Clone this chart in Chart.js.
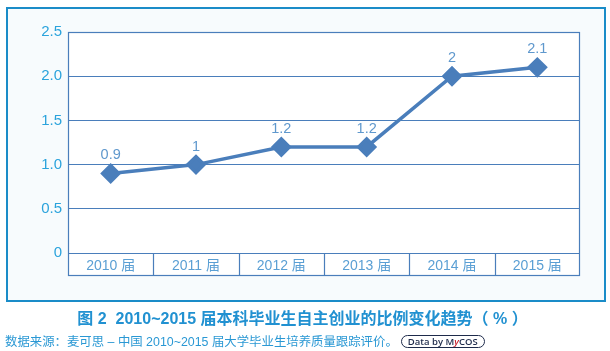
<!DOCTYPE html>
<html>
<head>
<meta charset="utf-8">
<script src="https://cdn.jsdelivr.net/npm/chart.js@4"></script>
<style>
  html, body { margin: 0; padding: 0; background: #ffffff; }
  #wrap { position: relative; width: 610px; height: 351px; overflow: hidden; font-family: "Liberation Sans", "Noto Sans CJK SC", sans-serif; }
  #box { position: absolute; left: 6px; top: 7px; width: 596px; height: 291px; border: 2px solid #1a8cc8; background: #f7fbfd; }
  #c { position: absolute; left: 0; top: 0; }
  #title { position: absolute; left: 0; width: 605px; top: 305px; text-align: center; font-size: 16px; font-weight: bold; color: #2191d1; white-space: nowrap; }
  #src { position: absolute; left: 5px; top: 332px; font-size: 12.4px; color: #2a98d4; white-space: nowrap; }
  #badge { display: inline-block; margin-left: 3px; border: 1.5px solid #1e2b4b; border-radius: 7px; padding: 0 6px; font-size: 9.5px; line-height: 11px; color: #1e2b4b; font-weight: 600; vertical-align: 1px; font-family: "Open Sans", "Liberation Sans", sans-serif; }
  #badge i { color: #c8202a; font-style: italic; }
</style>
</head>
<body>
<div id="wrap">
  <div id="box"></div>
  <canvas id="c" width="610" height="351"></canvas>
  <div id="title">图 2&nbsp; 2010~2015 届本科毕业生自主创业的比例变化趋势（ % ）</div>
  <div id="src">数据来源：麦可思 – 中国 2010~2015 届大学毕业生培养质量跟踪评价。<span id="badge">Data by M<i>y</i>COS</span></div>
</div>
<script>
const categories = ["2010 届", "2011 届", "2012 届", "2013 届", "2014 届", "2015 届"];
const values = [0.9, 1, 1.2, 1.2, 2, 2.1];
const valueLabels = ["0.9", "1", "1.2", "1.2", "2", "2.1"];
const yTickLabels = ["0", "0.5", "1.0", "1.5", "2.0", "2.5"];

const lineColor = "#4a7ebb";

const framePlugin = {
  id: "frame",
  beforeDraw(chart) {
    const { ctx, chartArea: a } = chart;
    ctx.save();
    ctx.fillStyle = "#ffffff";
    ctx.fillRect(a.left, a.top, a.right - a.left, a.bottom - a.top + 23);
    ctx.restore();
  },
  afterDraw(chart) {
    const { ctx, chartArea: a } = chart;
    const x = chart.scales.x;
    const bandBottom = a.bottom + 23;
    ctx.save();
    ctx.strokeStyle = lineColor;
    ctx.lineWidth = 1.2;
    ctx.strokeRect(a.left + 0.5, a.top + 0.5, a.right - a.left - 1, bandBottom - a.top - 1);
    ctx.beginPath();
    for (let i = 1; i < categories.length; i++) {
      const px = Math.round((x.getPixelForValue(i - 1) + x.getPixelForValue(i)) / 2) + 0.5;
      ctx.moveTo(px, a.bottom);
      ctx.lineTo(px, bandBottom);
    }
    ctx.stroke();
    ctx.restore();
  },
  afterDatasetsDraw(chart) {
    const { ctx } = chart;
    const meta = chart.getDatasetMeta(0);
    ctx.save();
    ctx.fillStyle = "#5f98cd";
    ctx.font = '14.5px "Liberation Sans", sans-serif';
    ctx.textAlign = "center";
    ctx.textBaseline = "middle";
    meta.data.forEach((pt, i) => {
      ctx.fillText(valueLabels[i], pt.x, pt.y - 18);
    });
    ctx.restore();
  }
};

new Chart(document.getElementById("c"), {
  type: "line",
  data: {
    labels: categories,
    datasets: [{
      data: values,
      borderColor: lineColor,
      backgroundColor: lineColor,
      borderWidth: 3.5,
      pointStyle: "rectRot",
      pointRadius: 8,
      pointHoverRadius: 8,
      pointBackgroundColor: lineColor,
      pointBorderColor: lineColor,
      tension: 0
    }]
  },
  options: {
    responsive: false,
    animation: false,
    devicePixelRatio: 1,
    layout: { padding: { left: 0, top: 32, right: 30, bottom: 75 } },
    plugins: { legend: { display: false }, tooltip: { enabled: false } },
    scales: {
      x: {
        offset: true,
        grid: { display: false, drawTicks: false },
        border: { display: false },
        ticks: {
          padding: 5,
          color: "#5a9fd4",
          font: { size: 14, family: '"Liberation Sans", "Noto Sans CJK SC", sans-serif' }
        },
        afterFit(s) { s.height = 23; }
      },
      y: {
        min: 0,
        max: 2.5,
        grid: { color: lineColor, lineWidth: 1, drawTicks: false },
        border: { display: false },
        ticks: {
          stepSize: 0.5,
          padding: 6,
          color: "#2ba3dc",
          font: { size: 15, family: '"Liberation Sans", sans-serif' },
          callback: (v) => yTickLabels[Math.round(v / 0.5)]
        },
        afterFit(s) { s.width = 68; }
      }
    }
  },
  plugins: [framePlugin]
});
</script>
</body>
</html>
